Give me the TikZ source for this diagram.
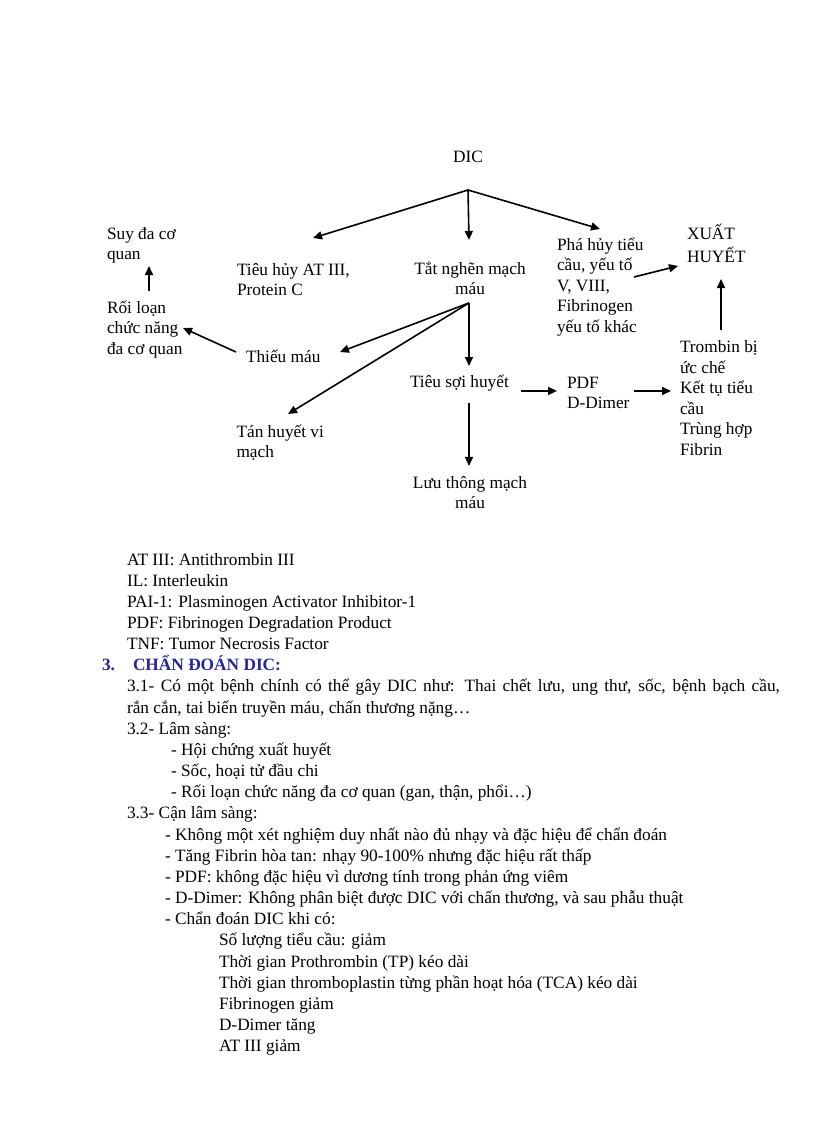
\documentclass[tikz,border=0pt]{standalone}
\usepackage{fontspec}
\setmainfont{Liberation Serif}
\usetikzlibrary{arrows.meta,calc}
\definecolor{headblue}{RGB}{38,38,150}
\newcommand\dfont{\fontsize{17.3}{20.5}\selectfont}
\newcommand\bfontsz{\fontsize{17.3}{21.16}\selectfont}
\begin{document}
\begin{tikzpicture}[x=1pt,y=-1pt,
  box/.style={font=\dfont,inner sep=0pt,outer sep=0pt,anchor=north west,align=left},
  cbox/.style={font=\dfont,inner sep=0pt,outer sep=0pt,anchor=north,align=center},
  lone/.style={font=\dfont,inner sep=0pt,outer sep=0pt,anchor=base west},
  body/.style={font=\bfontsz,inner sep=0pt,outer sep=0pt,anchor=base west},
  arr/.style={line width=1.6pt,-{Triangle[length=9pt,width=8pt]}}]
\useasboundingbox (0,0) rectangle (816,1123);
% ---------- diagram nodes ----------
\node[lone,anchor=base] (dic) at (468,163) {DIC};
\node[box] (suy) at (107,224.65) {\strut Suy đa cơ\\\strut quan};
\node[box] (roiloan) at (107,298.65) {\strut Rối loạn\\\strut chức năng\\\strut đa cơ quan};
\node[box] (tieuhuy) at (237,260.65) {\strut Tiêu hủy AT III,\\\strut Protein C};
\node[cbox] (tatnghen) at (470,259.95) {\strut Tắt nghẽn mạch\\\strut máu};
\node[box] (phahuy) at (557,235.65) {\strut Phá hủy tiểu\\\strut cầu, yếu tố\\\strut V, VIII,\\\strut Fibrinogen\\\strut yếu tố khác};
\node[box] (xuat) at (687,224.65) {\strut XUẤT\\\strut HUYẾT};
\node[lone] (thieumau) at (246,362.7) {Thiếu máu};
\node[lone] (tieusoi) at (410,387.3) {Tiêu sợi huyết};
\node[box] (pdf) at (567,373.95) {\strut PDF\\\strut D-Dimer};
\node[box] (trombin) at (680,338.15) {\strut Trombin bị\\\strut ức chế\\\strut Kết tụ tiểu\\\strut cầu\\\strut Trùng hợp\\\strut Fibrin};
\node[box] (tanhuyet) at (236.5,422.95) {\strut Tán huyết vi\\\strut mạch};
\node[cbox] (luuthong) at (470,473.95) {\strut Lưu thông mạch\\\strut máu};
% ---------- connectors ----------
\coordinate (fork1) at ($(dic.base)+(0,27)$);
\coordinate (fork2) at ($(tatnghen.north)+(-1,43)$);
\draw[arr] (fork1) -- ($(tieuhuy.north west)+(76,-22.65)$);
\draw[arr] (fork1) -- ($(tatnghen.north)+(-1,-20)$);
\draw[arr] (fork1) -- ($(phahuy.north west)+(43,-6.65)$);
\draw[arr] ($(phahuy.north west)+(77,41.35)$) -- ($(xuat.north west)+(-9,41.35)$);
\draw[arr] ($(trombin.north west)+(41,-8.15)$) -- ($(xuat.north west)+(34,54.35)$);
\draw[arr] ($(roiloan.north west)+(42,-7.65)$) -- ($(suy.north west)+(42,41.35)$);
\draw[arr] ($(thieumau.base west)+(-10,-10.7)$) -- ($(roiloan.north west)+(76,29.35)$);
\draw[arr] (fork2) -- ($(thieumau.base west)+(94,-10.7)$);
\draw[arr] (fork2) -- ($(tanhuyet.north west)+(51.5,-8.95)$);
\draw[arr] (fork2) -- ($(tieusoi.base west)+(59,-21.3)$);
\draw[arr] ($(tieusoi.base west)+(59,15.7)$) -- ($(luuthong.north)+(-1,-8)$);
\draw[arr] ($(tieusoi.base west)+(111,3.7)$) -- ($(pdf.north west)+(-10,17)$);
\draw[arr] ($(pdf.north west)+(67,17)$) -- ($(trombin.north west)+(-9,52.85)$);
% ---------- body text ----------
\node[body] (l0) at (127,565) {AT III: Antithrombin III};
\node[body] (l1) at (127,586.16) {IL: Interleukin};
\node[body] (l2) at (127,607.32) {PAI-1: Plasminogen Activator Inhibitor-1};
\node[body] (l3) at (127,628.48) {PDF: Fibrinogen Degradation Product};
\node[body] (l4) at (127,649.64) {TNF: Tumor Necrosis Factor};
\node[body,text=headblue,font=\bfontsz\bfseries] (h3) at (102,670.8) {3.};
\node[body,text=headblue,font=\bfontsz\bfseries] (h3t) at (133,670.8) {CHẨN ĐOÁN DIC:};
\node[body] (l6) at (127,691.96) {\makebox[653pt][s]{3.1- Có một bệnh chính có thể gây DIC như: Thai chết lưu, ung thư, sốc, bệnh bạch cầu,}};
\node[body] (l7) at (127,713.12) {rắn cắn, tai biến truyền máu, chấn thương nặng…};
\node[body] (l8) at (127,734.28) {3.2- Lâm sàng:};
\node[body] (l9) at (171,755.44) {- Hội chứng xuất huyết};
\node[body] (l10) at (171,776.6) {- Sốc, hoại tử đầu chi};
\node[body] (l11) at (171,797.76) {- Rối loạn chức năng đa cơ quan (gan, thận, phổi…)};
\node[body] (l12) at (127,818.92) {3.3- Cận lâm sàng:};
\node[body] (l13) at (165,840.08) {- Không một xét nghiệm duy nhất nào đủ nhạy và đặc hiệu để chẩn đoán};
\node[body] (l14) at (165,861.24) {- Tăng Fibrin hòa tan: nhạy 90-100\% nhưng đặc hiệu rất thấp};
\node[body] (l15) at (165,882.4) {- PDF: không đặc hiệu vì dương tính trong phản ứng viêm};
\node[body] (l16) at (165,903.56) {- D-Dimer: Không phân biệt được DIC với chấn thương, và sau phẫu thuật};
\node[body] (l17) at (165,924.72) {- Chẩn đoán DIC khi có:};
\node[body] (l18) at (219,945.88) {Số lượng tiểu cầu: giảm};
\node[body] (l19) at (219,967.04) {Thời gian Prothrombin (TP) kéo dài};
\node[body] (l20) at (219,988.2) {Thời gian thromboplastin từng phần hoạt hóa (TCA) kéo dài};
\node[body] (l21) at (219,1009.36) {Fibrinogen giảm};
\node[body] (l22) at (219,1030.52) {D-Dimer tăng};
\node[body] (l23) at (219,1051.68) {AT III giảm};
\end{tikzpicture}
\end{document}
